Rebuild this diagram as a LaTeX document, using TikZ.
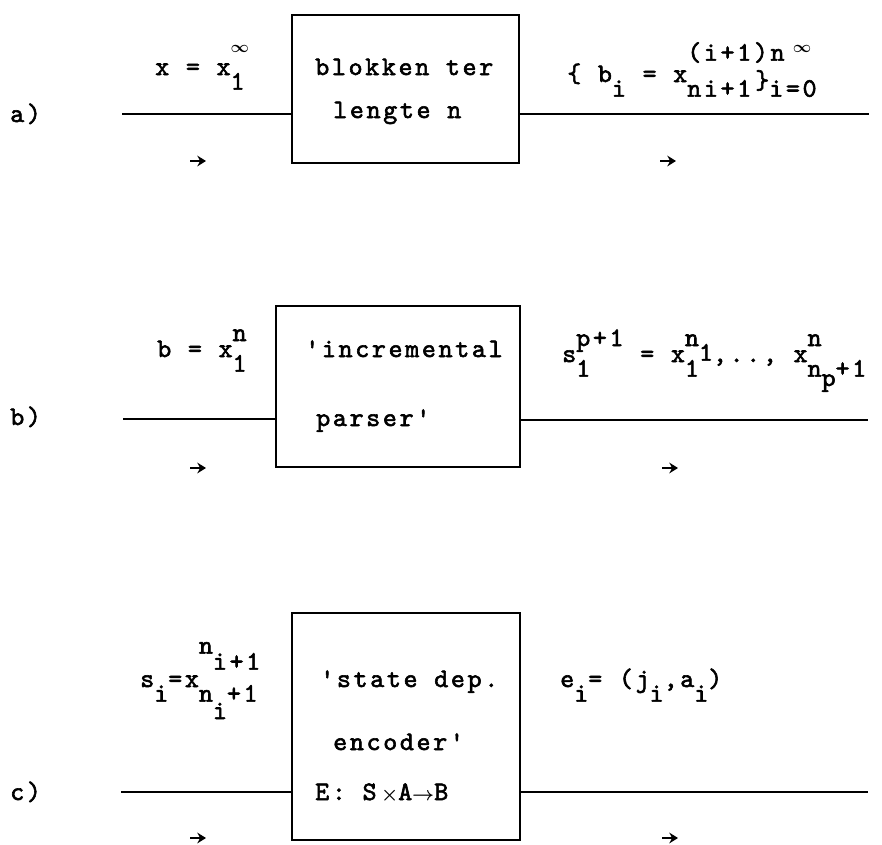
\documentclass[tikz,border=0pt]{standalone}
\usepackage{fontspec}
\usetikzlibrary{arrows.meta}
% typewriter face, spaced to a wide pitch and darkened like typed ink
\newfontfamily\tw{lmmono10-regular.otf}[LetterSpace=10, FakeBold=2.2, Ligatures=TeXOff]
% half-line shifts for typed indices
\newlength\supsh \setlength\supsh{12pt}
\newlength\subsh \setlength\subsh{11pt}
\newcommand\tup[1]{\raisebox{\supsh}{#1}}
\newcommand\tdn[1]{\raisebox{-\subsh}{#1}}
% sub- and superscript on one column, advancing by the wider of the two
\newcommand\tboth[2]{\setbox0=\hbox{#1}\setbox2=\hbox{#2}%
  \ifdim\wd0>\wd2 \rlap{\raisebox{\supsh}{\copy2}}\raisebox{-\subsh}{\copy0}%
  \else \rlap{\raisebox{-\subsh}{\copy0}}\raisebox{\supsh}{\copy2}\fi}
\newcommand\tinf{{\fontsize{12pt}{12pt}\selectfont\boldmath$\infty$}}
\newcommand\tsym[1]{{\fontsize{14pt}{14pt}\selectfont\boldmath$#1$}}
\begin{document}
\begin{tikzpicture}[x=0.75pt, y=-0.75pt,
  blockbox/.style={draw, line width=1.8pt, inner sep=0pt},
  wire/.style={line width=2.1pt},
  dirmark/.style={line width=1.6pt, -{Stealth[length=6.5pt, width=8pt]}},
  txt/.style={anchor=base west, inner sep=0pt, font={\fontsize{20pt}{22pt}\selectfont\tw}}]
\useasboundingbox (0,0) rectangle (882,844);

% ---------------- a) blocking into length n
\node[blockbox, minimum width=170.25pt, minimum height=111pt] (boxA) at (405.5,89) {};
\coordinate (inA) at (122,114);
\coordinate (outA) at (869,114);
\draw[wire] (inA) -- (inA -| boxA.west);
\draw[wire] (boxA.east |- outA) -- (outA);
\coordinate (dA1) at (190,161); \coordinate (dA1e) at (206,161);
\coordinate (dA2) at (660,161); \coordinate (dA2e) at (676,161);
\draw[dirmark] (dA1) -- (dA1e);
\draw[dirmark] (dA2) -- (dA2e);
\node[txt] (lblA) at (10,122) {a)};
\node[txt] (inTxtA) at (155,75) {x = x\rlap{\raisebox{17pt}{\tinf}}\tdn{1}};
\node[txt] (boxA1) at (315,75) {blokken ter};
\node[txt] (boxA2) at (333,118) {lengte n};
\node[txt] (outTxtA) at (567,82) {\{ b\tdn{i} = x\rlap{\raisebox{16pt}{(i+1)n}}\tdn{ni+1}\hspace{3pt}\raisebox{-5pt}{\}}\tdn{i=0}\llap{\raisebox{22pt}{\tinf}\hspace{4pt}}};

% ---------------- b) incremental parser
\node[blockbox, minimum width=183pt, minimum height=120.75pt] (boxB) at (398,386.5) {};
\coordinate (inB) at (123,419);
\coordinate (outB) at (868,420);
\draw[wire] (inB) -- (inB -| boxB.west);
\draw[wire] (boxB.east |- outB) -- (outB);
\coordinate (dB1) at (190,468); \coordinate (dB1e) at (206,468);
\coordinate (dB2) at (662,468); \coordinate (dB2e) at (678,468);
\draw[dirmark] (dB1) -- (dB1e);
\draw[dirmark] (dB2) -- (dB2e);
\node[txt] (lblB) at (10,425) {b)};
\node[txt] (inTxtB) at (157,357) {b = x\tboth{1}{n}};
\node[txt] (boxB1) at (305,357) {'incremental};
\node[txt] (boxB2) at (316,426) {parser'};
\node[txt] (outTxtB) at (562,362) {s\tboth{1}{p+1} = x\tboth{1}{n\tdn{1}},.., x\tboth{n\raisebox{-7pt}{p}+1}{n}};

% ---------------- c) state dependent encoder
\node[blockbox, minimum width=171pt, minimum height=170.25pt] (boxC) at (406,726.5) {};
\coordinate (inC) at (121,792);
\coordinate (outC) at (868,792);
\draw[wire] (inC) -- (inC -| boxC.west);
\draw[wire] (boxC.east |- outC) -- (outC);
\coordinate (dC1) at (190,838); \coordinate (dC1e) at (206,838);
\coordinate (dC2) at (662,838); \coordinate (dC2e) at (678,838);
\draw[dirmark] (dC1) -- (dC1e);
\draw[dirmark] (dC2) -- (dC2e);
\node[txt] (lblC) at (10,800) {c)};
\node[txt] (inTxtC) at (140,687) {s\tdn{i}=x\rlap{\raisebox{25pt}{n}\raisebox{13pt}{i+1}}\tdn{n}\raisebox{-24pt}{i}\tdn{+1}};
\node[txt] (boxC1) at (320,687) {'state dep.};
\node[txt] (boxC2) at (333,750) {encoder'};
\node[txt] (boxC3) at (315,800) {E: S\,\tsym{\times}A\tsym{\rightarrow}B};
\node[txt] (outTxtC) at (560,687) {e\tdn{i}= (j\tdn{i},a\tdn{i})};
\end{tikzpicture}
\end{document}
